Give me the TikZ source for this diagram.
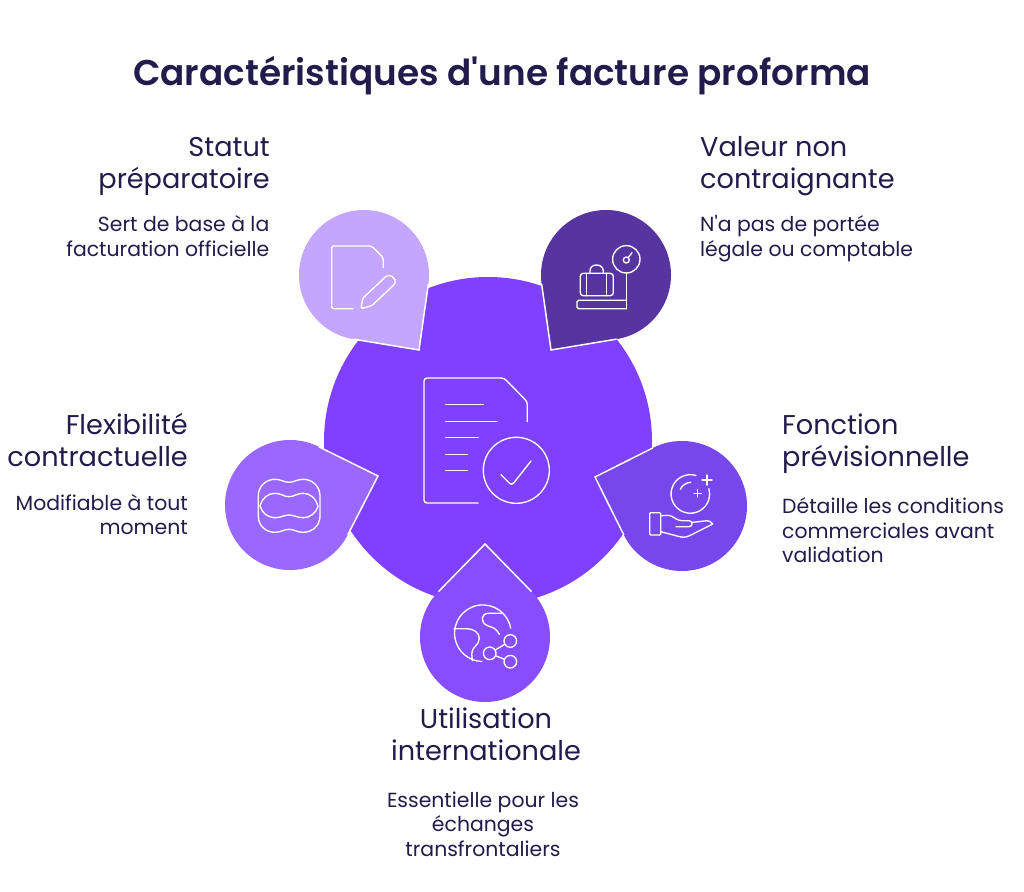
\documentclass[tikz,border=0pt]{standalone}
\usepackage{fontspec}
\newfontfamily\bodyfont{Poppins}
\newfontfamily\titlefont{Poppins SemiBold}
\usetikzlibrary{calc}
\definecolor{ink}{HTML}{211C4B}
\definecolor{core}{HTML}{7F40FF}
\definecolor{cA}{HTML}{C4A6FF}
\definecolor{cB}{HTML}{5734A0}
\definecolor{cC}{HTML}{7847EC}
\definecolor{cD}{HTML}{884DFF}
\definecolor{cE}{HTML}{9B68FF}
\tikzset{
  iconline/.style={draw=white,line width=1.35pt,line cap=round,line join=round,fill=none},
  titletext/.style={font=\titlefont\fontsize{35.85}{42}\selectfont,text=ink,inner sep=0pt},
  headtext/.style={font=\bodyfont\fontsize{27.15}{32}\selectfont,text=ink,inner sep=0pt},
  desctext/.style={font=\bodyfont\fontsize{20.4}{24.4}\selectfont,text=ink,inner sep=0pt},
  netnode/.style={circle,draw=white,line width=1.35pt,minimum size=12.6pt,inner sep=0pt},
}
% name, centre x, centre y, tip x, tip y, colour
\newcommand{\teardrop}[6]{%
  \coordinate (#1c) at (#2,#3);
  \coordinate (#1tip) at (#4,#5);
  \pgfmathsetmacro{\angA}{atan2(#5-#3,#4-#2)}
  \pgfmathsetmacro{\angD}{acos(65/veclen(#4-#2,#5-#3))}
  \pgfmathsetmacro{\angS}{\angA+\angD}
  \pgfmathsetmacro{\angE}{\angA-\angD+360}
  \fill[#6] (#1tip) -- ($(#1c)+(\angS:65)$) arc[start angle=\angS,end angle=\angE,radius=65pt] -- cycle;
  \draw[white,line width=1.5pt,line join=miter] ($(#1c)+(\angS:65)$) -- (#1tip) -- ($(#1c)+(\angE:65)$);
}
\begin{document}
\begin{tikzpicture}[x=1pt,y=1pt,yscale=-1]
\useasboundingbox (0,0) rectangle (1024,891);
\fill[white] (0,0) rectangle (1024,891);
\node[titletext,anchor=center] (title) at (502,76) {Caractéristiques d'une facture proforma};

\node[circle,fill=core,minimum size=328pt,inner sep=0pt] (hub) at (488,441) {};
\teardrop{a}{364}{275}{419}{350}{cA}
\teardrop{b}{606}{275}{551}{350}{cB}
\teardrop{c}{682}{506}{595}{477}{cC}
\teardrop{d}{485}{637}{485}{544}{cD}
\teardrop{e}{290}{505}{378}{476}{cE}

% central document
\draw[iconline,rounded corners=3pt] (478.3,503) -- (424,503) -- (424,378) -- (504,378) -- (527.3,401.7) -- (527.3,421.7);
\draw[iconline] (445.7,404.7) -- (483.3,404.7) (445.7,421.3) -- (497,421.3) (445.7,437.7) -- (478.3,437.7) (445.7,454.3) -- (467.3,454.3) (445.7,470.3) -- (467.3,470.3);
\draw[iconline] (516.3,470.3) circle[radius=33pt];
\draw[iconline,rounded corners=3pt] (501,474.7) -- (511.7,485.5) -- (531,461);

% icon a
\draw[iconline,rounded corners=2pt] (353,308.7) -- (331.7,308.7) -- (331.7,246) -- (371.7,246) -- (383.3,257.7) -- (383.3,267.7);
\draw[iconline,rounded corners=1.5pt] (361,308.7) -- (362.7,298.3) -- (385,277.3) .. controls (390,273) and (397,279) .. (394.3,284.5) -- (371.7,305.7) -- cycle;

% icon b
\draw[iconline] (626.3,259.3) circle[radius=13.7pt];
\draw[iconline] (626.3,260) circle[radius=3pt];
\draw[iconline] (628.2,257.6) -- (632,252.7);
\draw[iconline] (626.3,273) -- (626.3,308.7);
\draw[iconline,rounded corners=1.5pt] (626.3,308.7) -- (577,308.7) -- (577,300.3) -- (626.3,300.3);
\draw[iconline,rounded corners=3pt] (580.3,273.3) rectangle (613.3,295.7);
\draw[iconline] (586.7,273.3) -- (586.7,295.7) (606.7,273.3) -- (606.7,295.7);
\draw[iconline] (590,273.3) -- (590,271) .. controls (590,267) and (593,265) .. (596.5,265) .. controls (600,265) and (603.3,267) .. (603.3,271) -- (603.3,273.3);

% icon c
\draw[iconline] (696,475.5) arc[start angle=-73,end angle=-376,radius=19.3pt];
\draw[iconline] (702,480) -- (712,480) (707,475) -- (707,485);
\draw[iconline] (694,493.3) -- (701.4,493.3) (697.7,489.6) -- (697.7,497);
\draw[iconline] (680.3,489.3) .. controls (682,485.5) and (686,482.5) .. (690.7,482.3);
\draw[iconline,rounded corners=1pt] (649.7,512.7) rectangle (660.7,535);
\draw[iconline] (660.7,515.7) -- (668,515.3) .. controls (673,515.3) and (676,520.7) .. (682,520.7) -- (689,520.7) .. controls (693,520.7) and (693,526.7) .. (689,526.7) -- (676,526.7);
\draw[iconline] (691.5,522.5) -- (707,520.7) .. controls (709.5,520.5) and (711,522) .. (712.7,524) -- (692,534.5) .. controls (688,536.5) and (685,537.8) .. (681,537) -- (660.7,531.7);

% icon d
\draw[iconline] (510.7,628.3) arc[start angle=-10,end angle=-268,radius=28.3pt];
\draw[iconline] (454,628.7) -- (467,628.7) .. controls (474,628.7) and (479.3,633) .. (479.3,638.3) .. controls (479.3,645) and (472,647) .. (471.7,653.3) -- (472.3,660.7);
\draw[iconline] (503.3,613.3) -- (488.5,613.3) .. controls (481,613.3) and (480,622) .. (487,625.5) .. controls (493,628) and (495,627) .. (499.3,634.3);
\node[netnode] (n1) at (489.7,653.3) {};
\node[netnode] (n2) at (510.3,641) {};
\node[netnode] (n3) at (510.3,661.7) {};
\draw[iconline] (n1) -- (n2) (n1) -- (n3);

% icon e
\draw[iconline] (258.3,496) .. controls (258.3,486) and (266,479.3) .. (275,479.3) .. controls (281,479.3) and (284,482.3) .. (289,482.3) .. controls (294,482.3) and (297,479.3) .. (303.3,479.3) .. controls (312,479.3) and (320,486) .. (320,496) -- (320,516) .. controls (320,526) and (312,532.3) .. (303.3,532.3) .. controls (297,532.3) and (294,529.3) .. (289,529.3) .. controls (284,529.3) and (281,532.3) .. (275,532.3) .. controls (266,532.3) and (258.3,526) .. (258.3,516) -- cycle;
\draw[iconline] (260,506) .. controls (262,498) and (268,493.3) .. (275,493.3) .. controls (281,493.3) and (284,496.7) .. (289,496.7) .. controls (294,496.7) and (297,493.3) .. (303.3,493.3) .. controls (310,493.3) and (316,498) .. (318,506.7) .. controls (316,513) and (310,517.7) .. (303.3,517.7) .. controls (297,517.7) and (294,515) .. (289,515) .. controls (284,515) and (281,517.7) .. (275,517.7) .. controls (268,517.7) and (262,513) .. cycle;

% labels
\node[headtext,align=right,anchor=north east] (ah) at (270,137) {Statut\\préparatoire};
\node[desctext,align=right,anchor=north east] (ad) at (269.5,215.5) {Sert de base à la\\facturation officielle};
\node[headtext,align=left,anchor=north west] (bh) at (700,136.5) {Valeur non\\contraignante};
\node[desctext,align=left,anchor=north west] (bd) at (700,215.5) {N'a pas de portée\\légale ou comptable};
\node[headtext,align=left,anchor=north west] (ch) at (782,413.5) {Fonction\\prévisionnelle};
\node[desctext,align=left,anchor=north west] (cd) at (782,497.5) {Détaille les conditions\\commerciales avant\\validation};
\node[headtext,align=center,anchor=north] (dh) at (486,707.5) {Utilisation\\internationale};
\node[desctext,align=center,anchor=north] (dd) at (483,791.5) {Essentielle pour les\\échanges\\transfrontaliers};
\node[headtext,align=right,anchor=north east] (eh) at (188,413.5) {Flexibilité\\contractuelle};
\node[desctext,align=right,anchor=north east] (ed) at (188,494) {Modifiable à tout\\moment};
\end{tikzpicture}
\end{document}
